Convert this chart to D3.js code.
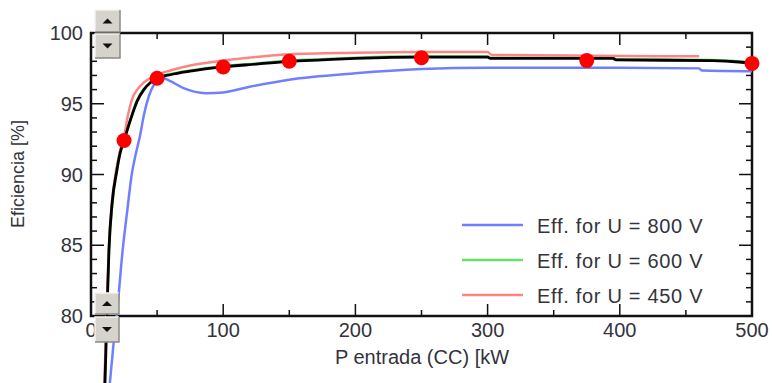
<!DOCTYPE html>
<html>
<head>
<meta charset="utf-8">
<script src="https://cdn.jsdelivr.net/npm/d3@7"></script>
<style>
  body { margin: 0; background: #fff; }
  svg { display: block; font-family: Arial, "Liberation Sans", sans-serif; }
</style>
</head>
<body>
<svg id="chart" width="772" height="383"></svg>
<script>
// data
var xTicks = [0, 100, 200, 300, 400, 500];
var yTicks = [80, 85, 90, 95, 100];

var blackCurve = [[10.5,75],[12,80],[13.6,84.7],[16,88],[19.4,90.2],[22,91.5],[25,92.4],[30,93.9],[35,95.2],[40,96.0],[45,96.5],[50,96.8],[60,97.05],[75,97.3],[100,97.6],[125,97.8],[150,98.0],[175,98.1],[200,98.2],[250,98.3],[300,98.3],[302,98.2],[395,98.2],[397,98.1],[470,98.05],[490,97.95],[500,97.85]];
var greenCurve = [[10.3,75],[11.9,80],[13.7,84.7],[16.2,88],[19.5,90.2],[22,91.6],[25,92.5],[30,93.95],[35,95.25],[40,96.05],[45,96.5],[50,96.85],[60,97.1],[75,97.35],[100,97.65],[125,97.85],[150,98.05],[175,98.15],[200,98.25],[250,98.35],[300,98.35],[302,98.25],[395,98.25],[397,98.15],[470,98.1],[490,98.0],[500,97.9]];
var redCurve = [[10,75],[11.8,80],[13.4,84.7],[15.8,88],[19,90.3],[22,91.7],[25,92.7],[28,94.2],[31,95.3],[35,96.0],[40,96.5],[50,97.05],[60,97.35],[75,97.7],[100,98.05],[125,98.3],[150,98.5],[200,98.6],[250,98.65],[300,98.65],[303,98.45],[460,98.35]];
var blueCurve = [[14,75],[17,78],[19.4,80],[24,84.7],[27.5,87.5],[30.8,90],[34,91.5],[37,92.7],[40,94.2],[44,95.6],[48,96.4],[53,96.85],[60,96.6],[70,96.1],[87,95.75],[100,95.8],[120,96.2],[150,96.7],[200,97.15],[250,97.45],[300,97.55],[400,97.55],[460,97.5],[462,97.35],[500,97.3]];

var dotX = [25, 50, 100, 150, 250, 375, 500];
var dotY = [92.4, 96.8, 97.6, 98.0, 98.25, 98.05, 97.85];

var legendLabels = ["Eff. for U = 800 V", "Eff. for U = 600 V", "Eff. for U = 450 V"];
var legendColors = ["#6f80ff", "#66e466", "#ff8585"];

var svg = d3.select("#chart");
var x = d3.scaleLinear().domain([0, 500]).range([91, 752]);
var y = d3.scaleLinear().domain([80, 100]).range([316, 33]);

var line = d3.line()
  .x(function(d) { return x(d[0]); })
  .y(function(d) { return y(d[1]); })
  .curve(d3.curveMonotoneX);

// frame ticks (all inward)
var minorX = d3.range(50, 500, 100);
var minorY = d3.range(80, 100, 1).filter(function(v) { return v % 5 !== 0; });
var ticks = svg.append("g").attr("stroke", "#111").attr("stroke-width", 1.5);
xTicks.slice(1, -1).forEach(function(v) {
  ticks.append("line").attr("x1", x(v)).attr("x2", x(v)).attr("y1", 316).attr("y2", 304);
  ticks.append("line").attr("x1", x(v)).attr("x2", x(v)).attr("y1", 33).attr("y2", 45);
});
minorX.forEach(function(v) {
  ticks.append("line").attr("x1", x(v)).attr("x2", x(v)).attr("y1", 316).attr("y2", 310);
  ticks.append("line").attr("x1", x(v)).attr("x2", x(v)).attr("y1", 33).attr("y2", 39);
});
yTicks.slice(1, -1).forEach(function(v) {
  ticks.append("line").attr("x1", 91).attr("x2", 104).attr("y1", y(v)).attr("y2", y(v));
  ticks.append("line").attr("x1", 752).attr("x2", 739).attr("y1", y(v)).attr("y2", y(v));
});
minorY.forEach(function(v) {
  ticks.append("line").attr("x1", 91).attr("x2", 97).attr("y1", y(v)).attr("y2", y(v));
  ticks.append("line").attr("x1", 752).attr("x2", 746).attr("y1", y(v)).attr("y2", y(v));
});

// frame box
svg.append("rect")
  .attr("x", 91).attr("y", 33).attr("width", 661).attr("height", 283)
  .attr("fill", "none").attr("stroke", "#111").attr("stroke-width", 2.5);

// tick labels
svg.append("g").selectAll("text").data(yTicks).enter().append("text")
  .attr("x", 83).attr("y", function(d) { return y(d) + 7; })
  .attr("text-anchor", "end").attr("font-size", 20).attr("fill", "#33333d")
  .text(function(d) { return d; });
svg.append("g").selectAll("text").data(xTicks).enter().append("text")
  .attr("x", function(d) { return x(d); }).attr("y", 337)
  .attr("text-anchor", "middle").attr("font-size", 20).attr("fill", "#33333d")
  .text(function(d) { return d; });

// axis titles
svg.append("text")
  .attr("x", 422).attr("y", 364).attr("text-anchor", "middle")
  .attr("font-size", 20).attr("fill", "#33333d")
  .text("P entrada (CC) [kW");
svg.append("text")
  .attr("transform", "translate(24,174) rotate(-90)")
  .attr("text-anchor", "middle").attr("font-size", 18).attr("fill", "#33333d")
  .text("Eficiencia [%]");

// curves
var curves = svg.append("g").attr("fill", "none");
curves.append("path").attr("d", line(blueCurve)).attr("stroke", legendColors[0]).attr("stroke-width", 2.5);
curves.append("path").attr("d", line(greenCurve)).attr("stroke", legendColors[1]).attr("stroke-width", 2.5);
curves.append("path").attr("d", line(redCurve)).attr("stroke", legendColors[2]).attr("stroke-width", 2.5);
curves.append("path").attr("d", line(blackCurve)).attr("stroke", "#000").attr("stroke-width", 2.8);

svg.append("g").selectAll("circle").data(dotX).enter().append("circle")
  .attr("cx", function(d) { return x(d); })
  .attr("cy", function(d, i) { return y(dotY[i]); })
  .attr("r", 7.5).attr("fill", "#ff0000");

// legend
var legend = svg.append("g");
legendLabels.forEach(function(t, i) {
  var ly = 225 + i * 35;
  legend.append("line").attr("x1", 462).attr("x2", 523).attr("y1", ly).attr("y2", ly)
    .attr("stroke", legendColors[i]).attr("stroke-width", 2.5);
  legend.append("text").attr("x", 537).attr("y", ly + 8)
    .attr("font-size", 20).attr("letter-spacing", 0.7).attr("fill", "#33333d").text(t);
});

// scroll buttons on the y axis
function button(bx, by, w, h, up) {
  var g = svg.append("g");
  g.append("rect").attr("x", bx).attr("y", by).attr("width", w).attr("height", h).attr("fill", "#d6d3cc");
  g.append("path").attr("d", "M" + bx + "," + (by + h) + "V" + by + "H" + (bx + w))
    .attr("fill", "none").attr("stroke", "#f4f3ef").attr("stroke-width", 1.5);
  g.append("path").attr("d", "M" + bx + "," + (by + h) + "H" + (bx + w) + "V" + by)
    .attr("fill", "none").attr("stroke", "#8c8a84").attr("stroke-width", 1.5);
  var cx = bx + w / 2, cy = by + h / 2;
  var tri = up ? "M" + (cx - 5) + "," + (cy + 2.5) + "L" + (cx + 5) + "," + (cy + 2.5) + "L" + cx + "," + (cy - 2.5) + "Z"
               : "M" + (cx - 5) + "," + (cy - 2.5) + "L" + (cx + 5) + "," + (cy - 2.5) + "L" + cx + "," + (cy + 2.5) + "Z";
  g.append("path").attr("d", tri).attr("fill", "#111");
}
button(95, 10, 25, 22, true);
button(95, 34, 25, 24, false);
button(95, 293, 24, 21, true);
button(95, 317, 24, 25, false);
</script>
</body>
</html>
